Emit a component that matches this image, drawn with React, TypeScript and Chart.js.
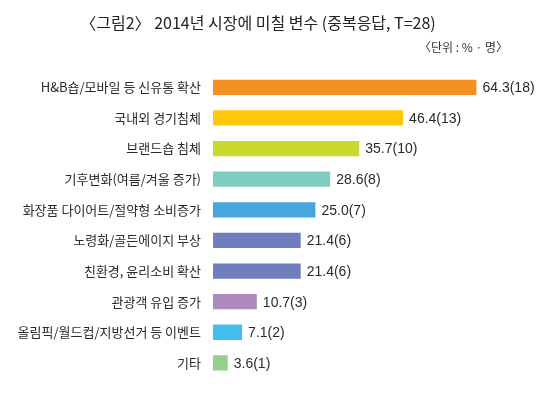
import React, { useEffect, useRef } from "react";
import { Chart, registerables } from "chart.js";

Chart.register(...registerables);

const categories = [
  "H&B숍/모바일 등 신유통 확산",
  "국내외 경기침체",
  "브랜드숍 침체",
  "기후변화(여름/겨울 증가)",
  "화장품 다이어트/절약형 소비증가",
  "노령화/골든에이지 부상",
  "친환경, 윤리소비 확산",
  "관광객 유입 증가",
  "올림픽/월드컵/지방선거 등 이벤트",
  "기타",
];
const percents = [64.3, 46.4, 35.7, 28.6, 25.0, 21.4, 21.4, 10.7, 7.1, 3.6];
const counts = [18, 13, 10, 8, 7, 6, 6, 3, 2, 1];
const barColors = [
  "#F39123",
  "#FFC80A",
  "#C9D92E",
  "#7FCDC0",
  "#46A7E0",
  "#6F7EBC",
  "#6F7EBC",
  "#AE88BF",
  "#43BDEB",
  "#98CD90",
];
const titleText = "〈그림2〉 2014년 시장에 미칠 변수 (중복응답, T=28)";
const unitText = "〈단위 : % · 명〉";

const KR = "'Noto Sans CJK KR', 'Noto Sans', sans-serif";

const valueLabels = {
  id: "valueLabels",
  afterDatasetsDraw(chart: any) {
    const ctx = chart.ctx;
    const meta = chart.getDatasetMeta(0);
    ctx.save();
    ctx.font = "14px 'Liberation Sans', Arial, sans-serif";
    ctx.fillStyle = "#2a2a2a";
    ctx.textAlign = "left";
    ctx.textBaseline = "middle";
    meta.data.forEach((bar: any, i: number) => {
      const text = percents[i].toFixed(1) + "(" + counts[i] + ")";
      ctx.fillText(text, bar.x + 6, bar.y + 1);
    });
    ctx.restore();
  },
};

export default function App() {
  const ref = useRef<HTMLCanvasElement | null>(null);
  useEffect(() => {
    if (!ref.current) return;
    const chart = new Chart(ref.current, {
      type: "bar",
      data: {
        labels: categories,
        datasets: [
          {
            data: percents,
            backgroundColor: barColors,
            borderWidth: 0,
            barPercentage: 0.5,
            categoryPercentage: 1,
          },
        ],
      },
      options: {
        indexAxis: "y",
        responsive: false,
        animation: false,
        layout: { padding: { left: 8, right: 50, top: 0, bottom: 8 } },
        plugins: {
          legend: { display: false },
          tooltip: { enabled: false },
          title: {
            display: true,
            text: titleText,
            color: "#222",
            font: { family: KR, size: 16, weight: "normal" },
            padding: { top: 13, bottom: 8.5 },
          },
          subtitle: {
            display: true,
            text: unitText,
            align: "end",
            color: "#333",
            font: { family: KR, size: 12, weight: "normal" },
            padding: { top: 0, bottom: 16.9 },
          },
        },
        scales: {
          x: { display: false, min: 0, max: 72 },
          y: {
            grid: { display: false, drawTicks: false },
            border: { display: false },
            ticks: {
              color: "#2a2a2a",
              padding: 12,
              font: { family: KR, size: 13 },
            },
            afterFit: (scale: any) => {
              scale.width = 205;
            },
          },
        },
      },
      plugins: [valueLabels],
    });
    return () => chart.destroy();
  }, []);
  return (
    <div style={{ position: "absolute", left: 0, top: 0, width: 558, height: 398, background: "#fff" }}>
      <canvas ref={ref} width={558} height={398} style={{ display: "block" }} />
    </div>
  );
}
